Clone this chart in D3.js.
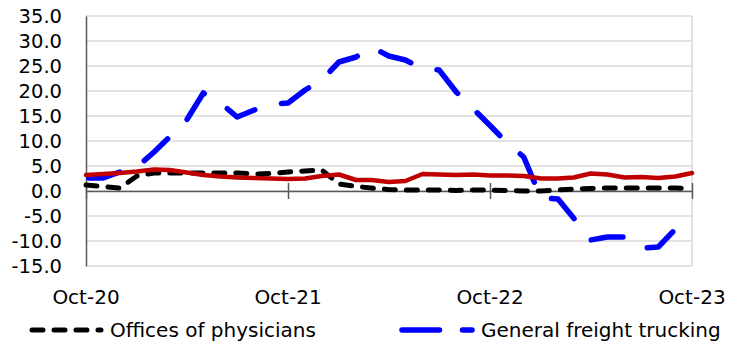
<!DOCTYPE html>
<html>
<head>
<meta charset="utf-8">
<script src="https://cdn.jsdelivr.net/npm/d3@7"></script>
<style>
  html, body { margin: 0; padding: 0; background: #fff; }
  svg text { font-family: "DejaVu Sans", "Liberation Sans", sans-serif; fill: #000; }
</style>
</head>
<body>
<svg id="chart" width="737" height="348"></svg>
<script>
// Monthly observations, Oct-2020 through Oct-2023
const months = [
  "2020-10","2020-11","2020-12","2021-01","2021-02","2021-03","2021-04","2021-05","2021-06",
  "2021-07","2021-08","2021-09","2021-10","2021-11","2021-12","2022-01","2022-02","2022-03",
  "2022-04","2022-05","2022-06","2022-07","2022-08","2022-09","2022-10","2022-11","2022-12",
  "2023-01","2023-02","2023-03","2023-04","2023-05","2023-06","2023-07","2023-08","2023-09",
  "2023-10"
];

// Offices of physicians (black dashed)
const physicians = [
  1.2, 0.9, 0.6, 3.0, 3.6, 3.6, 3.6, 3.6, 3.6, 3.6, 3.4, 3.5, 3.8,
  4.0, 4.2, 1.4, 0.9, 0.6, 0.3, 0.2, 0.2, 0.2, 0.1, 0.2, 0.2, 0.1,
  0.0, 0.0, 0.2, 0.4, 0.5, 0.6, 0.6, 0.6, 0.6, 0.6, 0.4
];

// General freight trucking (blue long dash), last reading Sep-2023
const freight = [
  2.6, 2.6, 3.8, 4.8, 7.8, 10.8, 14.2, 19.6, 17.6, 14.8, 16.2, 17.4,
  17.6, 20.2, 22.2, 25.8, 26.8, 28.8, 27.0, 26.2, 24.5, 24.2, 19.8, 16.4,
  13.1, 9.6, 6.8, -1.4, -1.6, -5.4, -9.8, -9.2, -9.2, -11.4, -11.2, -7.6
];

// Third series (red solid)
const overall = [
  3.2, 3.4, 3.6, 3.9, 4.3, 4.2, 3.7, 3.2, 2.9, 2.7, 2.6, 2.5, 2.4,
  2.5, 3.0, 3.3, 2.2, 2.2, 1.8, 2.0, 3.4, 3.3, 3.2, 3.3, 3.1, 3.1,
  3.0, 2.5, 2.5, 2.7, 3.5, 3.3, 2.7, 2.8, 2.6, 2.9, 3.6
];

const yTicks = [-15, -10, -5, 0, 5, 10, 15, 20, 25, 30, 35];
const xTickMonths = ["2020-10", "2021-10", "2022-10", "2023-10"];
const legendLabels = ["Offices of physicians", "General freight trucking"];

const parseMonth = d3.utcParse("%Y-%m");
const dates = months.map(parseMonth);

const svg = d3.select("#chart");
const plot = { left: 86, right: 692, top: 16, bottom: 266 };

const x = d3.scaleUtc()
  .domain([dates[0], dates[dates.length - 1]])
  .range([plot.left, plot.right]);

const y = d3.scaleLinear()
  .domain([-15, 35])
  .range([plot.bottom, plot.top]);

// Horizontal gridlines
svg.append("g")
  .selectAll("line")
  .data(yTicks)
  .join("line")
  .attr("x1", plot.left).attr("x2", plot.right)
  .attr("y1", d => y(d)).attr("y2", d => y(d))
  .attr("stroke", "#d9d9d9")
  .attr("stroke-width", 1.5);

// Plot-area frame on the right
svg.append("line")
  .attr("x1", plot.right).attr("x2", plot.right)
  .attr("y1", plot.top).attr("y2", plot.bottom)
  .attr("stroke", "#d9d9d9").attr("stroke-width", 1.5);

// Y axis labels
const yAxis = d3.axisLeft(y)
  .tickValues(yTicks)
  .tickFormat(d => d.toFixed(1))
  .tickSize(0)
  .tickPadding(24);
const gy = svg.append("g")
  .attr("transform", `translate(${plot.left},0)`)
  .call(yAxis);
gy.select(".domain").attr("stroke", "#595959").attr("stroke-width", 1.5);
gy.selectAll("text")
  .style("font-size", "19.5px")
  .attr("fill", "#000");

// X axis along zero with yearly tick marks
const tickDates = xTickMonths.map(parseMonth);
const xAxis = d3.axisBottom(x)
  .tickValues(tickDates)
  .tickSizeInner(8)
  .tickSizeOuter(0)
  .tickFormat("");
const gx = svg.append("g")
  .attr("transform", `translate(0,${y(0)})`)
  .call(xAxis);
gx.select(".domain").attr("stroke", "#595959").attr("stroke-width", 1.5);
gx.selectAll(".tick line")
  .attr("y1", -8)
  .attr("stroke", "#595959").attr("stroke-width", 1.5);

// X category labels below the plot
svg.append("g")
  .selectAll("text")
  .data(tickDates)
  .join("text")
  .attr("x", d => x(d))
  .attr("y", 304)
  .attr("text-anchor", "middle")
  .style("font-size", "20px")
  .text(d3.utcFormat("%b-%y"));

// Series lines
const line = d3.line()
  .x((d, i) => x(dates[i]))
  .y(d => y(d));

const series = [
  { values: physicians, color: "#000000", width: 5, dash: "11,11", offset: 0 },
  { values: freight, color: "#0000ff", width: 5.5, dash: "32,27.6", offset: -2.8 },
  { values: overall, color: "#c00000", width: 4.5, dash: null, offset: 0 }
];

svg.append("g")
  .selectAll("path")
  .data(series)
  .join("path")
  .attr("d", d => line(d.values))
  .attr("fill", "none")
  .attr("stroke", d => d.color)
  .attr("stroke-width", d => d.width)
  .attr("stroke-linecap", "round")
  .attr("stroke-linejoin", "round")
  .attr("stroke-dasharray", d => d.dash)
  .attr("stroke-dashoffset", d => d.offset);

// Legend
const legendItems = [
  { label: legendLabels[0], x0: 32, x1: 101, color: "#000000", width: 5, dash: "11,11" },
  { label: legendLabels[1], x0: 402, x1: 472, color: "#0000ff", width: 5.5, dash: "37.5,23" }
];
const lg = svg.append("g");
lg.selectAll("line")
  .data(legendItems)
  .join("line")
  .attr("x1", d => d.x0).attr("x2", d => d.x1)
  .attr("y1", 330).attr("y2", 330)
  .attr("stroke", d => d.color)
  .attr("stroke-width", d => d.width)
  .attr("stroke-linecap", "round")
  .attr("stroke-dasharray", d => d.dash);
lg.selectAll("text")
  .data(legendItems)
  .join("text")
  .attr("x", d => d.x1 + 9)
  .attr("y", 337)
  .style("font-size", "20px")
  .text(d => d.label);
</script>
</body>
</html>
